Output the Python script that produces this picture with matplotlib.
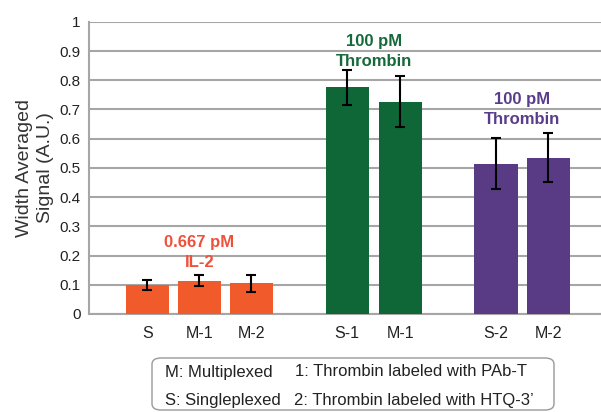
import numpy as np
import matplotlib.pyplot as plt
from matplotlib.patches import FancyBboxPatch

plt.rcParams['font.family'] = ['Liberation Sans', 'DejaVu Sans']

# data
labels = ['S', 'M-1', 'M-2', 'S-1', 'M-1', 'S-2', 'M-2']
values = [0.099, 0.114, 0.105, 0.776, 0.727, 0.515, 0.535]
errors = [0.017, 0.018, 0.030, 0.060, 0.086, 0.086, 0.084]
groups = ['IL-2', 'IL-2', 'IL-2', 'T1', 'T1', 'T2', 'T2']
group_notes = {'IL-2': '0.667 pM\nIL-2', 'T1': '100 pM\nThrombin', 'T2': '100 pM\nThrombin'}

bar_colors = {'IL-2': '#f15a2b', 'T1': '#0f6637', 'T2': '#583a85'}
text_colors = {'IL-2': '#f0503a', 'T1': '#16693a', 'T2': '#5a3d8a'}
note_y = {'IL-2': 0.209, 'T1': 0.899, 'T2': 0.700}

x = np.array([0, 1, 2, 3.84, 4.86, 6.70, 7.71])

fig = plt.figure(figsize=(6.01, 4.12), dpi=100)
ax = fig.add_axes([0.148, 0.238, 0.852, 0.709])

ax.bar(x, values, width=0.83, color=[bar_colors[g] for g in groups], zorder=3)
ax.errorbar(x, values, yerr=errors, fmt='none', ecolor='black', elinewidth=1.5,
            capsize=3.5, capthick=1.5, zorder=4)

# group labels above bars
for g in ['IL-2', 'T1', 'T2']:
    xs = x[[i for i, gg in enumerate(groups) if gg == g]]
    cx = xs.mean() if g != 'IL-2' else xs[1]
    ax.text(cx, note_y[g], group_notes[g], ha='center', va='center', color=text_colors[g],
            fontsize=12, fontweight='bold', linespacing=1.4)

ax.set_xlim(-1.125, 8.72)
ax.set_ylim(0, 1)
ax.set_yticks(np.arange(0, 1.01, 0.1))
ax.set_yticklabels(['0'] + ['%.1f' % v for v in np.arange(0.1, 0.95, 0.1)] + ['1'])
ax.set_xticks(x)
ax.set_xticklabels(labels)
ax.tick_params(length=0, colors='#222222')
ax.tick_params(axis='x', labelsize=11.5, pad=9)
ax.tick_params(axis='y', labelsize=11, pad=6)
ax.grid(axis='y', color='#a6a6a6', linewidth=1.5, zorder=0)
for s in ['top', 'right']:
    ax.spines[s].set_visible(False)
for s in ['left', 'bottom']:
    ax.spines[s].set_color('#a6a6a6')
    ax.spines[s].set_linewidth(1.5)
ax.set_ylabel('Width Averaged\nSignal (A.U.)', fontsize=14, color='#333333', va='center',
              linespacing=1.3)
ax.yaxis.set_label_coords(-0.1045, 0.5)

# legend box
box = FancyBboxPatch((152 / 601, 2 / 412), 402 / 601, 52 / 412,
                     boxstyle='round,pad=0,rounding_size=0.015',
                     transform=fig.transFigure, facecolor='white', edgecolor='#999999',
                     linewidth=1.0)
fig.patches.append(box)
fig.text(165 / 601, 1 - 372 / 412, 'M: Multiplexed', fontsize=12, va='center', color='#222222')
fig.text(165 / 601, 1 - 400 / 412, 'S: Singleplexed', fontsize=12, va='center', color='#222222')
fig.text(295 / 601, 1 - 372 / 412, '1: Thrombin labeled with PAb-T', fontsize=12, va='center',
         color='#222222')
fig.text(294 / 601, 1 - 400 / 412, '2: Thrombin labeled with HTQ-3\u2019', fontsize=12,
         va='center', color='#222222')

fig.savefig('out.png', dpi=100)
